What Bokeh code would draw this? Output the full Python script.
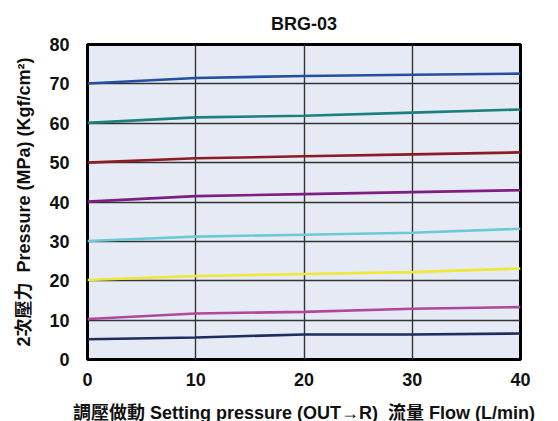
from bokeh.plotting import figure
from bokeh.embed import file_html
from bokeh.resources import INLINE
from bokeh.models import FixedTicker, Range1d

title_text = "BRG-03"
x_label = "調壓做動 Setting pressure (OUT→R)\u00a0\u00a0流量 Flow (L/min)"
y_label = "2次壓力\u00a0\u00a0Pressure (MPa) (Kgf/cm²)"

flow = [0, 10, 20, 30, 40]
x_ticks = [0, 10, 20, 30, 40]
y_ticks = [0, 10, 20, 30, 40, 50, 60, 70, 80]

series = {
    "s70": [70.1, 71.5, 72.0, 72.3, 72.6],
    "s60": [60.1, 61.5, 61.9, 62.7, 63.5],
    "s50": [50.0, 51.1, 51.6, 52.1, 52.6],
    "s40": [40.1, 41.5, 42.0, 42.5, 43.0],
    "s30": [30.1, 31.2, 31.7, 32.2, 33.2],
    "s20": [20.2, 21.2, 21.7, 22.2, 23.1],
    "s10": [10.3, 11.7, 12.1, 12.9, 13.3],
    "s05": [5.15, 5.6, 6.35, 6.35, 6.6],
}
colors = {
    "s70": "#2150a3",
    "s60": "#1b7f7c",
    "s50": "#8c1c22",
    "s40": "#7d1f82",
    "s30": "#6ccad6",
    "s20": "#eee733",
    "s10": "#b0479c",
    "s05": "#1f2c5f",
}

FONT = "'Liberation Sans', 'Noto Sans CJK TC', sans-serif"

p = figure(
    width=558, height=421,
    frame_width=433, frame_height=315,
    x_range=Range1d(0, 40), y_range=Range1d(0, 80),
    output_backend="svg", toolbar_location=None,
    min_border_left=87, min_border_right=38, min_border_top=43, min_border_bottom=63,
)
p.title.text = title_text
p.title.align = "center"
p.title.text_font = FONT
p.title.text_font_size = "18px"
p.title.text_font_style = "bold"
p.title.text_color = "#111111"
p.title.standoff = 22

p.background_fill_color = "#e6eaf5"
p.border_fill_color = "white"
p.outline_line_color = "black"
p.outline_line_width = 3

for ax in (p.xaxis[0], p.yaxis[0]):
    ax.axis_line_color = None
    ax.major_tick_line_color = None
    ax.minor_tick_line_color = None
    ax.major_label_text_font = FONT
    ax.major_label_text_font_size = "18px"
    ax.major_label_text_font_style = "bold"
    ax.major_label_text_color = "#111111"
    ax.axis_label_text_font = FONT
    ax.axis_label_text_font_size = "18px"
    ax.axis_label_text_font_style = "bold"
    ax.axis_label_text_color = "#111111"

p.xaxis.ticker = FixedTicker(ticks=x_ticks)
p.yaxis.ticker = FixedTicker(ticks=y_ticks)
p.xaxis.axis_label = x_label
p.yaxis.axis_label = y_label
p.xaxis.major_label_standoff = 7
p.yaxis.major_label_standoff = 12
p.xaxis.axis_label_standoff = 14
p.yaxis.axis_label_standoff = 12

p.grid.grid_line_color = "#333333"
p.grid.grid_line_width = 1.4

for k, ys in series.items():
    p.line(flow, ys, line_color=colors[k], line_width=2.6)

open("out.html", "w").write(file_html(p, INLINE))
